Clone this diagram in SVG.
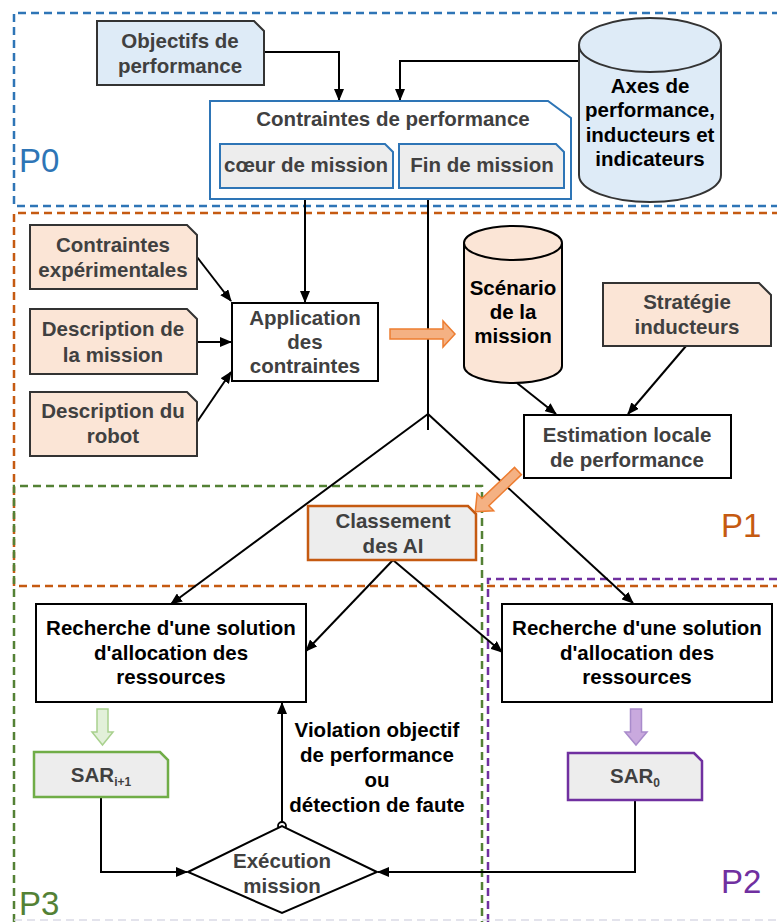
<svg xmlns="http://www.w3.org/2000/svg" width="777" height="922" viewBox="0 0 777 922">
<style>
text{font-family:"Liberation Sans",Arial,sans-serif;font-weight:bold;font-size:20.5px;text-anchor:middle;fill:#404040}
.blk{fill:#000}
.zone{fill:none;stroke-width:2.5;stroke-dasharray:8 5}
.doc{stroke:#333;stroke-width:2}
.peach{fill:#FBE5D6}
.lblue{fill:#DEEBF7}
.grey{fill:#EDEDED}
.box{fill:#fff;stroke:#000;stroke-width:2}
.con{fill:none;stroke:#000;stroke-width:2}
.plab{font-weight:normal;font-size:33px;text-anchor:start}
</style>
<defs>
<marker id="ah" markerUnits="userSpaceOnUse" markerWidth="12" markerHeight="10" refX="11" refY="5" orient="auto">
<path d="M0 0 L12 5 L0 10 Z" fill="#000"/>
</marker>
</defs>
<rect width="777" height="922" fill="#fff"/>
<g id="zones">
<path class="zone" stroke="#2E75B6" d="M780 13 H14 V206 H780"/>
<path class="zone" stroke="#C55A11" d="M780 213 H14 V586 H780"/>
<path class="zone" stroke="#538135" d="M14 922 V486 H482 V922"/>
<path class="zone" stroke="#7030A0" d="M488 922 V579 H780"/>
<line x1="14" y1="920" x2="777" y2="920" stroke="#DADAE6" stroke-width="1.5" stroke-dasharray="8 5"/>
<text class="plab" x="19" y="172" style="fill:#2E75B6">P0</text>
<text class="plab" x="721" y="537" style="fill:#C55A11">P1</text>
<text class="plab" x="721" y="893" style="fill:#7030A0">P2</text>
<text class="plab" x="19" y="915" style="fill:#538135">P3</text>
</g>
<g id="connectors">
<path class="con" d="M264 52 H339 V100" marker-end="url(#ah)"/>
<path class="con" d="M579 61 H400 V100" marker-end="url(#ah)"/>
<path class="con" d="M305 188 V302" marker-end="url(#ah)"/>
<path class="con" d="M428 188 V430"/>
<path class="con" d="M428 414 L171 604" marker-end="url(#ah)"/>
<path class="con" d="M428 414 L633 603" marker-end="url(#ah)"/>
<path class="con" d="M197 257 L231 301" marker-end="url(#ah)"/>
<path class="con" d="M197 342 H231" marker-end="url(#ah)"/>
<path class="con" d="M197 422 L231 372" marker-end="url(#ah)"/>
<path class="con" d="M517 383 L556 414" marker-end="url(#ah)"/>
<path class="con" d="M686 346 L628 414" marker-end="url(#ah)"/>
<path class="con" d="M393 560 L306 651" marker-end="url(#ah)"/>
<path class="con" d="M393 560 L502 652" marker-end="url(#ah)"/>
<path class="con" d="M101 797 V872 H187" marker-end="url(#ah)"/>
<path class="con" d="M635 800 V872 H378" marker-end="url(#ah)"/>
<path class="con" d="M282 822 V703" marker-end="url(#ah)"/>
<circle cx="282" cy="826" r="4" fill="#fff" stroke="#000" stroke-width="1.8"/>
<path d="M390 329 H443 V321 L455 334 L443 347 V339 H390 Z" fill="#F4B183" stroke="#ED7D31" stroke-width="1.5"/>
<path transform="translate(518,471) rotate(136.4)" d="M0 -5 H45 V-12 L59 0 L45 12 V5 H0 Z" fill="#F4B183" stroke="#ED7D31" stroke-width="1.5"/>
<path d="M97 709 H108 V732 H113 L102.5 745 L92 732 H97 Z" fill="#E2F0D9" stroke="#A9D18E" stroke-width="1.5"/>
<path d="M630.5 709 H641.5 V732 H647 L636 745 L625 732 H630.5 Z" fill="#C9A9DE" stroke="#A98BCB" stroke-width="1.5"/>
</g>
<g id="objectifs">
<path class="doc lblue" d="M97 21 H254 L264 31 V85 H97 Z"/>
<text x="180" y="48">Objectifs de</text>
<text x="180" y="73">performance</text>
</g>
<g id="contraintes-perf">
<path d="M210 101 H548 L571 118 V199 H210 Z" fill="#fff" stroke="#2E75B6" stroke-width="2"/>
<text x="393" y="126">Contraintes de performance</text>
</g>
<g id="coeur">
<path class="grey" stroke="#2E75B6" stroke-width="2" d="M220 144 H385 L393 152 V188 H220 Z"/>
<text x="306" y="172">cœur de mission</text>
</g>
<g id="fin">
<path class="grey" stroke="#2E75B6" stroke-width="2" d="M399 144 H556 L564 152 V188 H399 Z"/>
<text x="482" y="172">Fin de mission</text>
</g>
<g id="axes">
<path class="doc lblue" d="M579 45 A71 27 0 0 1 721 45 V175 A71 27 0 0 1 579 175 Z"/>
<path class="doc" fill="none" d="M579 45 A71 27 0 0 0 721 45"/>
<text class="blk" x="650" y="93">Axes de</text>
<text class="blk" x="650" y="117">performance,</text>
<text class="blk" x="650" y="142">inducteurs et</text>
<text class="blk" x="650" y="166">indicateurs</text>
</g>
<g id="contraintes-exp">
<path class="doc peach" d="M30 225 H187 L197 235 V289 H30 Z"/>
<text x="113" y="252">Contraintes</text>
<text x="113" y="277">expérimentales</text>
</g>
<g id="desc-mission">
<path class="doc peach" d="M30 309 H187 L197 319 V374 H30 Z"/>
<text x="113" y="336">Description de</text>
<text x="113" y="362">la mission</text>
</g>
<g id="desc-robot">
<path class="doc peach" d="M30 392 H187 L197 402 V456 H30 Z"/>
<text x="113" y="418">Description du</text>
<text x="113" y="443">robot</text>
</g>
<g id="application">
<rect class="box" x="232" y="303" width="146" height="78"/>
<text x="305" y="325">Application</text>
<text x="305" y="349">des</text>
<text x="305" y="373">contraintes</text>
</g>
<g id="scenario">
<path class="doc peach" style="stroke:#000" d="M464 243 A49 17 0 0 1 562 243 V366 A49 17 0 0 1 464 366 Z"/>
<path class="doc" style="stroke:#000" fill="none" d="M464 243 A49 17 0 0 0 562 243"/>
<text class="blk" x="513" y="295">Scénario</text>
<text class="blk" x="513" y="319">de la</text>
<text class="blk" x="513" y="343">mission</text>
</g>
<g id="strategie">
<path class="doc peach" d="M603 283 H759 L771 295 V346 H603 Z"/>
<text x="687" y="309">Stratégie</text>
<text x="687" y="334">inducteurs</text>
</g>
<g id="estimation">
<rect class="box" x="524" y="415" width="207" height="63"/>
<text x="627" y="442">Estimation locale</text>
<text x="627" y="467">de performance</text>
</g>
<g id="classement">
<path class="grey" stroke="#C55A11" stroke-width="2.5" d="M308 506 H468 L476 514 V560 H308 Z"/>
<text x="393" y="528">Classement</text>
<text x="393" y="553">des AI</text>
</g>
<g id="recherche-p3">
<rect class="box" x="36" y="604" width="270" height="98"/>
<text class="blk" x="171" y="635">Recherche d'une solution</text>
<text class="blk" x="171" y="660">d'allocation des</text>
<text class="blk" x="171" y="684">ressources</text>
</g>
<g id="recherche-p2">
<rect class="box" x="502" y="604" width="270" height="98"/>
<text class="blk" x="637" y="635">Recherche d'une solution</text>
<text class="blk" x="637" y="660">d'allocation des</text>
<text class="blk" x="637" y="684">ressources</text>
</g>
<g id="sar-i1">
<path class="grey" stroke="#70AD47" stroke-width="2.5" d="M34 752 H160 L168 760 V797 H34 Z"/>
<text x="101" y="782">SAR<tspan font-size="12" dy="4">i+1</tspan></text>
</g>
<g id="sar-0">
<path class="grey" stroke="#7030A0" stroke-width="2.5" d="M568 753 H694 L702 761 V800 H568 Z"/>
<text x="635" y="783">SAR<tspan font-size="12" dy="4">0</tspan></text>
</g>
<g id="execution">
<path d="M188 872 L282 826 L377 872 L282 913 Z" fill="#fff" stroke="#000" stroke-width="2"/>
<text x="282" y="868">Exécution</text>
<text x="282" y="893">mission</text>
</g>
<g id="violation-label">
<text class="blk" x="377" y="737">Violation objectif</text>
<text class="blk" x="377" y="762">de performance</text>
<text class="blk" x="377" y="787">ou</text>
<text class="blk" x="377" y="812">détection de faute</text>
</g>
</svg>
